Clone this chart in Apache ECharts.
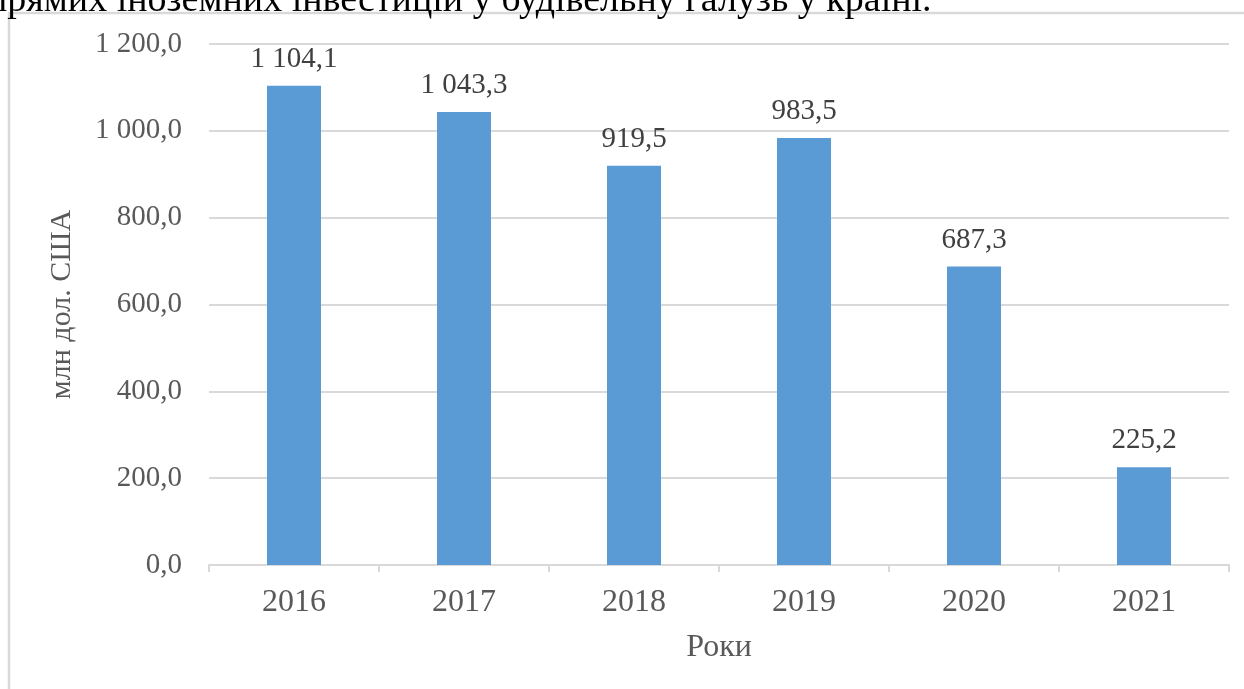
<!DOCTYPE html>
<html><head><meta charset="utf-8">
<script src="https://cdn.jsdelivr.net/npm/echarts@6/dist/echarts.min.js"></script>
<style>html,body{margin:0;padding:0;background:#fff}#c{width:1244px;height:689px}</style>
</head><body><div id="c"></div>
<script>
const categories = ['2016','2017','2018','2019','2020','2021'];
const values = [1104.1, 1043.3, 919.5, 983.5, 687.3, 225.2];
const yTicks = [0, 200, 400, 600, 800, 1000, 1200];
const titleText = 'прямих іноземних інвестицій у будівельну галузь у країні.';
const yName = 'млн дол. США';
const xName = 'Роки';

function fmt(v){
  const s = v.toFixed(1).split('.');
  const i = s[0].replace(/\B(?=(\d{3})+(?!\d))/g, ' ');
  return i + ',' + s[1];
}
const F = '"Liberation Serif", "Times New Roman", serif';
const chart = echarts.init(document.getElementById('c'));
chart.setOption({
  animation:false,
  backgroundColor:'#fff',
  graphic:[
    {type:'rect', shape:{x:9,y:13,width:1300,height:700}, style:{fill:'none', stroke:'#d9d9d9', lineWidth:2.5}, z:-1},
    {type:'text', x:-13, y:-18, style:{text:titleText, font:'38px '+F, fill:'#000'}}
  ],
  grid:{left:209, right:15, top:44, bottom:124},
  xAxis:{
    type:'category', data:categories,
    name:xName, nameLocation:'middle', nameGap:67,
    nameTextStyle:{fontFamily:F, fontSize:32, color:'#595959'},
    axisLine:{lineStyle:{color:'#d9d9d9', width:2}},
    axisTick:{show:true, length:7, lineStyle:{color:'#d9d9d9', width:2}},
    axisLabel:{fontFamily:F, fontSize:32, color:'#595959', margin:22}
  },
  yAxis:{
    type:'value', min:yTicks[0], max:yTicks[yTicks.length-1], interval:200,
    name:yName, nameLocation:'middle', nameGap:132, nameRotate:90,
    nameTextStyle:{fontFamily:F, fontSize:30, color:'#595959'},
    axisLine:{show:false}, axisTick:{show:false},
    splitLine:{lineStyle:{color:'#d9d9d9', width:2}},
    axisLabel:{fontFamily:F, fontSize:29, color:'#595959', margin:27, formatter:v=>fmt(v)}
  },
  series:[{
    type:'bar', data:values, barWidth:54,
    itemStyle:{color:'#5b9bd5'},
    label:{show:true, position:'top', distance:12, fontFamily:F, fontSize:29, color:'#404040', formatter:p=>fmt(p.value)}
  }]
});
</script></body></html>
